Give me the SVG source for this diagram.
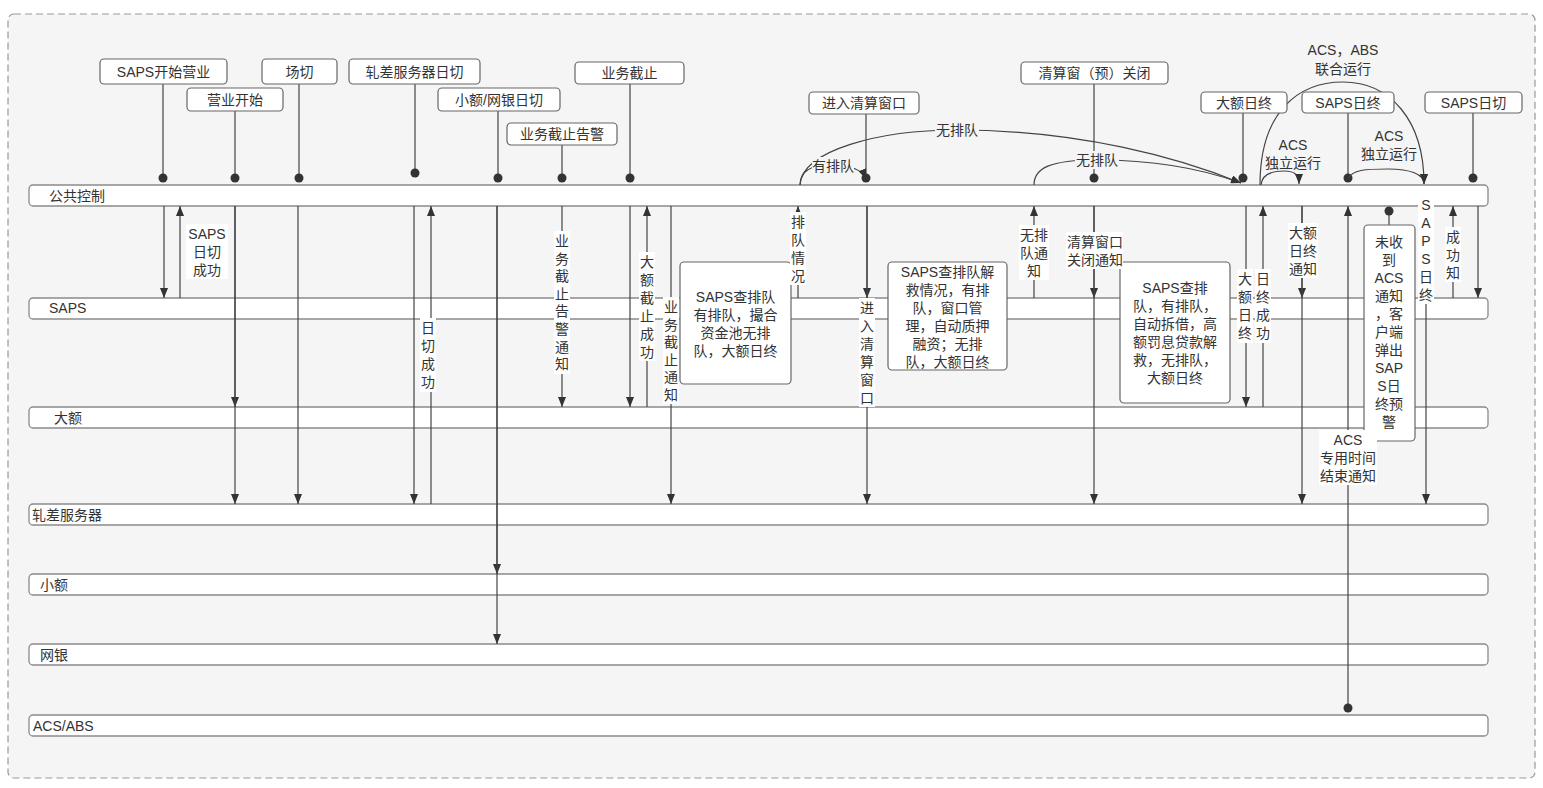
<svg xmlns="http://www.w3.org/2000/svg" width="1543" height="788" viewBox="0 0 1543 788">
<style>
.lane{fill:#fff;stroke:#8a8a8a;stroke-width:1.3}
.box{fill:#fff;stroke:#666;stroke-width:1.2}
.t{font-family:"Liberation Sans","Noto Sans CJK SC",sans-serif;font-size:14px;fill:#333}
.m{text-anchor:middle}
.c{stroke:#444;stroke-width:1.2;fill:none}
.a{stroke:#444;stroke-width:1.2;fill:none;marker-end:url(#ah)}
.bg{fill:#fff}
.dot{fill:#333}
</style>
<defs>
<marker id="ah" viewBox="0 0 10 8" refX="10" refY="4" markerWidth="10" markerHeight="8" orient="auto" markerUnits="userSpaceOnUse"><path d="M0,0 L10,4 L0,8 z" fill="#333"/></marker>
</defs>
<rect x="0" y="0" width="1543" height="788" fill="#fff"/>
<rect x="8" y="14" width="1527" height="764" rx="6" fill="#f5f5f5" stroke="#999" stroke-width="1.2" stroke-dasharray="7 4"/>

<g id="lanes">
<g id="lane-ggkz"><rect class="lane" x="29" y="185" width="1459" height="21" rx="4"/><text class="t" x="49" y="201">公共控制</text></g>
<g id="lane-saps"><rect class="lane" x="29" y="298" width="1459" height="21" rx="4"/><text class="t" x="49" y="313">SAPS</text></g>
<g id="lane-de"><rect class="lane" x="29" y="407" width="1459" height="21" rx="4"/><text class="t" x="54" y="423">大额</text></g>
<g id="lane-zc"><rect class="lane" x="29" y="504" width="1459" height="21" rx="4"/><text class="t" x="32" y="520">轧差服务器</text></g>
<g id="lane-xe"><rect class="lane" x="29" y="574" width="1459" height="21" rx="4"/><text class="t" x="40" y="590">小额</text></g>
<g id="lane-wy"><rect class="lane" x="29" y="644" width="1459" height="21" rx="4"/><text class="t" x="40" y="660">网银</text></g>
<g id="lane-acs"><rect class="lane" x="29" y="715" width="1459" height="21" rx="4"/><text class="t" x="33" y="731">ACS/ABS</text></g>
</g>

<g id="connectors">
<!-- event lines to 公共控制 -->
<line class="c" x1="163" y1="84" x2="163" y2="178"/><circle class="dot" cx="163" cy="178" r="4.5"/>
<line class="c" x1="235" y1="111" x2="235" y2="178"/><circle class="dot" cx="235" cy="178" r="4.5"/>
<line class="c" x1="299" y1="84" x2="299" y2="178"/><circle class="dot" cx="299" cy="178" r="4.5"/>
<line class="c" x1="415" y1="84" x2="415" y2="173"/><circle class="dot" cx="415" cy="173" r="4.5"/>
<line class="c" x1="498" y1="111" x2="498" y2="178"/><circle class="dot" cx="498" cy="178" r="4.5"/>
<line class="c" x1="562" y1="145" x2="562" y2="178"/><circle class="dot" cx="562" cy="178" r="4.5"/>
<line class="c" x1="630" y1="84" x2="630" y2="178"/><circle class="dot" cx="630" cy="178" r="4.5"/>
<line class="c" x1="866" y1="114" x2="866" y2="178"/><circle class="dot" cx="866" cy="178" r="4.5"/>
<line class="c" x1="1094" y1="84" x2="1094" y2="178"/><circle class="dot" cx="1094" cy="178" r="4.5"/>
<line class="c" x1="1243" y1="113" x2="1243" y2="178"/><circle class="dot" cx="1243" cy="178" r="4.5"/>
<line class="c" x1="1348" y1="113" x2="1348" y2="178"/><circle class="dot" cx="1348" cy="178" r="4.5"/>
<line class="c" x1="1473" y1="113" x2="1473" y2="178"/><circle class="dot" cx="1473" cy="178" r="4.5"/>

<!-- vertical flows -->
<line class="a" x1="164" y1="206" x2="164" y2="298"/>
<line class="a" x1="180" y1="298" x2="180" y2="206"/>
<line class="a" x1="235" y1="206" x2="235" y2="407"/>
<line class="a" x1="235" y1="206" x2="235" y2="504"/>
<line class="a" x1="298" y1="206" x2="298" y2="504"/>
<line class="a" x1="414" y1="206" x2="414" y2="504"/>
<line class="a" x1="431" y1="504" x2="431" y2="206"/>
<line class="a" x1="497" y1="206" x2="497" y2="574"/>
<line class="a" x1="497" y1="206" x2="497" y2="644"/>
<line class="a" x1="562" y1="206" x2="562" y2="407"/>
<line class="a" x1="630" y1="206" x2="630" y2="407"/>
<line class="a" x1="647" y1="407" x2="647" y2="206"/>
<line class="a" x1="671" y1="206" x2="671" y2="504"/>
<line class="a" x1="798" y1="298" x2="798" y2="206"/>
<line class="a" x1="867" y1="206" x2="867" y2="298"/>
<line class="a" x1="867" y1="206" x2="867" y2="504"/>
<line class="a" x1="1034" y1="298" x2="1034" y2="206"/>
<line class="a" x1="1094" y1="206" x2="1094" y2="298"/>
<line class="a" x1="1094" y1="206" x2="1094" y2="504"/>
<line class="a" x1="1246" y1="206" x2="1246" y2="407"/>
<line class="a" x1="1263" y1="407" x2="1263" y2="206"/>
<line class="a" x1="1302" y1="206" x2="1302" y2="298"/>
<line class="a" x1="1302" y1="206" x2="1302" y2="504"/>
<line class="a" x1="1348" y1="708" x2="1348" y2="206"/><circle class="dot" cx="1348" cy="708" r="4.5"/>
<line class="c" x1="1389" y1="211" x2="1389" y2="225"/><circle class="dot" cx="1389" cy="211" r="4.5"/>
<line class="a" x1="1426" y1="206" x2="1426" y2="504"/>
<line class="a" x1="1453" y1="298" x2="1453" y2="206"/>
<line class="a" x1="1478" y1="206" x2="1478" y2="298"/>

<!-- curves above 公共控制 -->
<path class="a" d="M800 185 C800 172 810 165 830 165 C850 165 862 169 866 179"/>
<path class="a" d="M800 185 C802 150 880 130 957 130 C1080 130 1180 158 1241 183"/>
<path class="a" d="M1034 185 C1034 168 1050 160 1097 160 C1150 160 1200 168 1241 183"/>
<path class="a" d="M1260 185 C1260 110 1300 82 1343 82 C1390 82 1424 120 1424 184"/>
<path class="a" d="M1261 185 C1262 174 1272 171 1284 171 C1296 171 1299 176 1299 184"/>
<path class="a" d="M1349 178 C1352 170 1365 169 1388 169 C1410 169 1424 174 1424 184"/>
</g>

<g id="event-labels">
<g id="ev1"><rect class="box" x="100" y="59" width="127" height="25" rx="4"/><text class="t m" x="163.5" y="76.5">SAPS开始营业</text></g>
<g id="ev2"><rect class="box" x="187" y="88" width="96" height="23" rx="4"/><text class="t m" x="235" y="104.5">营业开始</text></g>
<g id="ev3"><rect class="box" x="262" y="59" width="75" height="25" rx="4"/><text class="t m" x="299.5" y="76.5">场切</text></g>
<g id="ev4"><rect class="box" x="349" y="59" width="131" height="25" rx="4"/><text class="t m" x="414.5" y="76.5">轧差服务器日切</text></g>
<g id="ev5"><rect class="box" x="438" y="88" width="122" height="23" rx="4"/><text class="t m" x="499" y="104.5">小额/网银日切</text></g>
<g id="ev6"><rect class="box" x="507" y="123" width="110" height="22" rx="4"/><text class="t m" x="562" y="139">业务截止告警</text></g>
<g id="ev7"><rect class="box" x="575" y="62" width="109" height="22" rx="4"/><text class="t m" x="629.5" y="78">业务截止</text></g>
<g id="ev8"><rect class="box" x="809" y="92" width="110" height="22" rx="4"/><text class="t m" x="864" y="108">进入清算窗口</text></g>
<g id="ev9"><rect class="box" x="1021" y="62" width="147" height="22" rx="4"/><text class="t m" x="1094.5" y="78">清算窗（预）关闭</text></g>
<g id="ev10"><rect class="box" x="1201" y="92" width="86" height="21" rx="4"/><text class="t m" x="1244" y="107.5">大额日终</text></g>
<g id="ev11"><rect class="box" x="1302" y="92" width="92" height="21" rx="4"/><text class="t m" x="1348" y="107.5">SAPS日终</text></g>
<g id="ev12"><rect class="box" x="1425" y="92" width="97" height="21" rx="4"/><text class="t m" x="1473.5" y="107.5">SAPS日切</text></g>
</g>

<g id="process-boxes">
<g id="p1"><rect class="box" x="680" y="262" width="111" height="122" rx="4"/>
<text class="t m" x="735.5" y="302"><tspan x="735.5">SAPS查排队</tspan><tspan x="735.5" dy="18">有排队，撮合</tspan><tspan x="735.5" dy="18">资金池无排</tspan><tspan x="735.5" dy="18">队，大额日终</tspan></text></g>
<g id="p2"><rect class="box" x="888" y="262" width="119" height="108" rx="4"/>
<text class="t m" x="947.5" y="277"><tspan x="947.5">SAPS查排队解</tspan><tspan x="947.5" dy="18">救情况，有排</tspan><tspan x="947.5" dy="18">队，窗口管</tspan><tspan x="947.5" dy="18">理，自动质押</tspan><tspan x="947.5" dy="18">融资；无排</tspan><tspan x="947.5" dy="18">队，大额日终</tspan></text></g>
<g id="p3"><rect class="box" x="1120" y="262" width="110" height="141" rx="4"/>
<text class="t m" x="1175" y="293"><tspan x="1175">SAPS查排</tspan><tspan x="1175" dy="18">队，有排队，</tspan><tspan x="1175" dy="18">自动拆借，高</tspan><tspan x="1175" dy="18">额罚息贷款解</tspan><tspan x="1175" dy="18">救，无排队，</tspan><tspan x="1175" dy="18">大额日终</tspan></text></g>
<g id="p4"><rect class="box" x="1364" y="225" width="51" height="216" rx="4"/>
<text class="t m" x="1389" y="247"><tspan x="1389">未收</tspan><tspan x="1389" dy="18">到</tspan><tspan x="1389" dy="18">ACS</tspan><tspan x="1389" dy="18">通知</tspan><tspan x="1389" dy="18">，客</tspan><tspan x="1389" dy="18">户端</tspan><tspan x="1389" dy="18">弹出</tspan><tspan x="1389" dy="18">SAP</tspan><tspan x="1389" dy="18">S日</tspan><tspan x="1389" dy="18">终预</tspan><tspan x="1389" dy="18">警</tspan></text></g>
</g>

<g id="flow-labels">
<rect class="bg" x="186" y="224" width="42" height="55"/>
<text class="t m" x="207" y="239"><tspan x="207">SAPS</tspan><tspan x="207" dy="18">日切</tspan><tspan x="207" dy="18">成功</tspan></text>

<rect class="bg" x="420" y="318" width="16" height="74"/>
<text class="t m" x="428" y="333"><tspan x="428">日</tspan><tspan x="428" dy="18">切</tspan><tspan x="428" dy="18">成</tspan><tspan x="428" dy="18">功</tspan></text>

<rect class="bg" x="554" y="231" width="16" height="143"/>
<text class="t m" x="562" y="246"><tspan x="562">业</tspan><tspan x="562" dy="17.6">务</tspan><tspan x="562" dy="17.6">截</tspan><tspan x="562" dy="17.6">止</tspan><tspan x="562" dy="17.6">告</tspan><tspan x="562" dy="17.6">警</tspan><tspan x="562" dy="17.6">通</tspan><tspan x="562" dy="17.6">知</tspan></text>

<rect class="bg" x="639" y="252" width="16" height="109"/>
<text class="t m" x="647" y="267"><tspan x="647">大</tspan><tspan x="647" dy="18">额</tspan><tspan x="647" dy="18">截</tspan><tspan x="647" dy="18">止</tspan><tspan x="647" dy="18">成</tspan><tspan x="647" dy="18">功</tspan></text>

<rect class="bg" x="663" y="297" width="16" height="107"/>
<text class="t m" x="671" y="312"><tspan x="671">业</tspan><tspan x="671" dy="17.6">务</tspan><tspan x="671" dy="17.6">截</tspan><tspan x="671" dy="17.6">止</tspan><tspan x="671" dy="17.6">通</tspan><tspan x="671" dy="17.6">知</tspan></text>

<rect class="bg" x="790" y="212" width="16" height="73"/>
<text class="t m" x="798" y="227"><tspan x="798">排</tspan><tspan x="798" dy="18">队</tspan><tspan x="798" dy="18">情</tspan><tspan x="798" dy="18">况</tspan></text>

<rect class="bg" x="859" y="298" width="16" height="109"/>
<text class="t m" x="867" y="313"><tspan x="867">进</tspan><tspan x="867" dy="18">入</tspan><tspan x="867" dy="18">清</tspan><tspan x="867" dy="18">算</tspan><tspan x="867" dy="18">窗</tspan><tspan x="867" dy="18">口</tspan></text>

<rect class="bg" x="1019" y="225" width="30" height="55"/>
<text class="t m" x="1034" y="240"><tspan x="1034">无排</tspan><tspan x="1034" dy="18">队通</tspan><tspan x="1034" dy="18">知</tspan></text>

<rect class="bg" x="1066" y="232" width="57" height="37"/>
<text class="t m" x="1095" y="247"><tspan x="1095">清算窗口</tspan><tspan x="1095" dy="18">关闭通知</tspan></text>

<rect class="bg" x="1237" y="269" width="16" height="74"/>
<text class="t m" x="1245" y="284"><tspan x="1245">大</tspan><tspan x="1245" dy="18">额</tspan><tspan x="1245" dy="18">日</tspan><tspan x="1245" dy="18">终</tspan></text>

<rect class="bg" x="1255" y="269" width="16" height="74"/>
<text class="t m" x="1263" y="284"><tspan x="1263">日</tspan><tspan x="1263" dy="18">终</tspan><tspan x="1263" dy="18">成</tspan><tspan x="1263" dy="18">功</tspan></text>

<rect class="bg" x="1288" y="223" width="30" height="55"/>
<text class="t m" x="1303" y="238"><tspan x="1303">大额</tspan><tspan x="1303" dy="18">日终</tspan><tspan x="1303" dy="18">通知</tspan></text>

<rect class="bg" x="1319" y="430" width="58" height="55"/>
<text class="t m" x="1348" y="445"><tspan x="1348">ACS</tspan><tspan x="1348" dy="18">专用时间</tspan><tspan x="1348" dy="18">结束通知</tspan></text>

<rect class="bg" x="1418" y="196" width="16" height="108"/>
<text class="t m" x="1426" y="210"><tspan x="1426">S</tspan><tspan x="1426" dy="18">A</tspan><tspan x="1426" dy="18">P</tspan><tspan x="1426" dy="18">S</tspan><tspan x="1426" dy="18">日</tspan><tspan x="1426" dy="18">终</tspan></text>

<rect class="bg" x="1445" y="227" width="16" height="55"/>
<text class="t m" x="1453" y="242"><tspan x="1453">成</tspan><tspan x="1453" dy="18">功</tspan><tspan x="1453" dy="18">知</tspan></text>

<rect x="812" y="157" width="42" height="18" fill="#f5f5f5"/>
<text class="t m" x="833" y="171">有排队</text>
<rect x="935" y="121" width="44" height="18" fill="#f5f5f5"/>
<text class="t m" x="957" y="135">无排队</text>
<rect x="1075" y="151" width="44" height="18" fill="#f5f5f5"/>
<text class="t m" x="1097" y="165">无排队</text>

<text class="t m" x="1343" y="55"><tspan x="1343">ACS，ABS</tspan><tspan x="1343" dy="19">联合运行</tspan></text>
<text class="t m" x="1293" y="150"><tspan x="1293">ACS</tspan><tspan x="1293" dy="18">独立运行</tspan></text>
<text class="t m" x="1389" y="141"><tspan x="1389">ACS</tspan><tspan x="1389" dy="18">独立运行</tspan></text>
</g>
</svg>
